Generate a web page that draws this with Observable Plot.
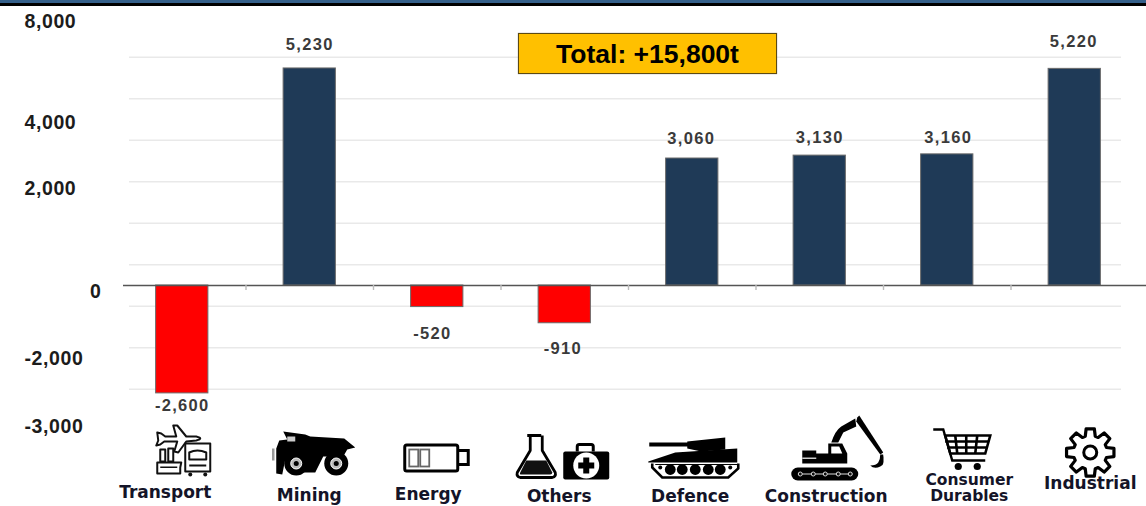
<!DOCTYPE html>
<html><head><meta charset="utf-8">
<script src="https://cdn.jsdelivr.net/npm/d3@7"></script>
<script src="https://cdn.jsdelivr.net/npm/@observablehq/plot@0.6"></script>
<style>
html,body{margin:0;padding:0;width:1146px;height:506px;overflow:hidden;background:#fff}
#a{height:3px;background:#35608a}#b{height:3px;background:#000}
#chart{position:absolute;left:0;top:6px}
#total{position:absolute;left:518px;top:33px;width:257px;height:39px;background:#FFC000;border:1px solid #5c4a12;
 font:bold 26.5px "Liberation Sans",sans-serif;color:#000;text-align:center;line-height:41px;box-shadow:0 0 1px #888}
.val{letter-spacing:1.3px}
.tick{letter-spacing:.6px}
svg{overflow:hidden}
</style></head><body>
<div id="a"></div><div id="b"></div>
<div id="chart"></div>
<div id="total">Total: +15,800t</div>
<script>
const categories = ["Transport","Mining","Energy","Others","Defence","Construction","Consumer Durables","Industrial"];
const values = [-2600,5230,-520,-910,3060,3130,3160,5220];
const valueText = ["-2,600","5,230","-520","-910","3,060","3,130","3,160","5,220"];
const axisText = ["8,000","4,000","2,000","-2,000","-3,000"];
const gridValues = [5500,4500,3500,2500,1500,500,-500,-1500,-2500];

// layout, as page pixels
const PX_PER_UNIT = 0.0415, ZERO_Y = 285;
const unit = p => (ZERO_Y - p) / PX_PER_UNIT;
const valueTextY = [405,44,333,348,138,137,137,41];
const valueTextDx = [0,0,-5,-2,-1,0,1,-1];
const axisTextY = [21,122,188,358,426];
const catLabels = [
 {t:"Transport",c:0,cx:165,y:492,s:17},{t:"Mining",c:1,cx:309,y:495,s:17},{t:"Energy",c:2,cx:428,y:494,s:17},
 {t:"Others",c:3,cx:559,y:496,s:17},{t:"Defence",c:4,cx:690,y:496,s:17},{t:"Construction",c:5,cx:826,y:496,s:17},
 {t:"Consumer",c:6,cx:969,y:480,s:15.5},{t:"Durables",c:6,cx:969,y:496,s:15.5},{t:"Industrial",c:7,cx:1090,y:483,s:17}];
const center = i => 182 + 127.5*i;

// icon artwork, drawn in page pixels inside each icon's viewBox
const gear = (()=>{const cx=1090,cy=452,pts=[];for(let i=0;i<8;i++){const a=i*Math.PI/4-Math.PI/2;
  for(const [da,r] of [[-.30,17],[-.17,24],[.17,24],[.30,17]]) pts.push([cx+r*Math.cos(a+da),cy+r*Math.sin(a+da)].map(v=>v.toFixed(1)).join(","));}
  return `<path d="M${pts.join("L")}Z" fill="none" stroke="#000" stroke-width="3.2" stroke-linejoin="round"/><circle cx="${cx}" cy="${cy}" r="6.5" fill="none" stroke="#000" stroke-width="3"/>`;})();
const icons = [
 `<g fill="#fff" stroke="#111" stroke-width="2" stroke-linejoin="round"><path d="M157 432l4 1 4 3 11 0-3-11 4 0 9 11 10 0q4 1 4 2t-4 2l-10 1-8 11-4-1 3-10-13 0-4 3-4 1 2-5z"/><path d="M185 443h25v28h-25z"/><path d="M189 452q8-4 17 0v7h-17z"/><path d="M189 465h17"/><path d="M160 449h5v12h-5zM168 448h5v13h-5z"/><path d="M157 462h24l-1 5v6h-23z"/></g><g fill="#111"><path d="M160 466h17v1.5h-17z"/><circle cx="190" cy="474" r="2"/><circle cx="205" cy="474" r="2"/></g>`,
 `<g fill="#000"><path d="M283 431l22 3 5 2 34 2 11 9-8 2-4 7-20 0-2 4-6 12-14 0-8-12-8-1-3 15-6-1v-25l3-8 8-1z"/><circle cx="296" cy="463" r="12"/><circle cx="336" cy="463" r="12"/></g><circle cx="296" cy="463" r="5.5" fill="#bbb" stroke="#fff"/><circle cx="336" cy="463" r="5.5" fill="#bbb" stroke="#fff"/><circle cx="296" cy="463" r="2.5"/><circle cx="336" cy="463" r="2.5"/><path d="M287 436h8v5h-8z" fill="#ccc"/><path d="M273 448v12" stroke="#999" stroke-width="2.5"/>`,
 `<rect x="404.5" y="444.5" width="53" height="26" rx="2" fill="none" stroke="#000" stroke-width="3"/><path d="M458 450h10v14h-10" fill="none" stroke="#000" stroke-width="3"/><rect x="409" y="449" width="9" height="17" fill="none" stroke="#666" stroke-width="1.8"/><rect x="420" y="449" width="9" height="17" fill="none" stroke="#666" stroke-width="1.8"/>`,
 `<path d="M527 435h14M530 435v15l-13 22q-1 4 3 5h32q4-1 3-5l-13-22v-15" fill="#fff" stroke="#000" stroke-width="2.8" stroke-linejoin="round"/><path d="M526 460h20l6 12q0 2-2 2h-29q-2 0-1-2z" fill="#111"/><path d="M577 451v-5q0-2 2-2h12q2 0 2 2v5" fill="none" stroke="#000" stroke-width="3"/><rect x="563" y="451" width="46" height="28" rx="2"/><circle cx="586" cy="465" r="13" fill="#fff"/><path d="M583 457h6v5h5v6h-5v5h-6v-5h-5v-6h5z"/>`,
 `<path d="M649 442h38v4h-38zM687 441l38-4v12l-24 2-14-3z"/><path d="M648 461l27-9 62-4v14h-89z"/><path d="M652 463v4l10 10h66l10-9v-5" fill="none" stroke="#000" stroke-width="2.6"/><path d="M655 464h82" stroke="#000" stroke-width="1"/><g><circle cx="670" cy="469" r="5.4"/><circle cx="682" cy="469" r="5.4"/><circle cx="695" cy="469" r="5.4"/><circle cx="708" cy="469" r="5.4"/><circle cx="720" cy="469" r="5.4"/><circle cx="660" cy="467" r="2"/><circle cx="730" cy="467" r="2"/></g>`,
 `<rect x="791" y="467" width="67" height="13" rx="6.5"/><path d="M798 473.500h54" stroke="#ddd" stroke-width="1"/><g fill="#111" stroke="#ddd"><circle cx="800" cy="473.500" r="2"/><circle cx="813" cy="473.500" r="2"/><circle cx="825" cy="473.500" r="2"/><circle cx="838" cy="473.500" r="2"/><circle cx="850" cy="473.500" r="2"/></g><path d="M802 454v-4h14v3h12v-10h14l5 10v10h-45z"/><path d="M802 457h14v1.500h-14z" fill="#ccc"/><path d="M831 446h8l3 7h-11z" fill="#fff"/><path d="M831 442q4-12 10-16l14-8 1 8-13 6-5 10z"/><path d="M857 417l2-2 24 37-3 2-24-33z"/><path d="M883 454q3 9-3 12t-10-1q6 0 8-3t2-8z"/>`,
 `<path d="M933 429h10l9 31h33" fill="none" stroke="#000" stroke-width="2.4"/><path d="M945 435h45l-5 18h-35z" fill="none" stroke="#000" stroke-width="2.6"/><path d="M945 441h43M947 447h39M955 435l2 18M966 435v18M977 435l-2 18" stroke="#000" stroke-width="2.6"/><circle cx="958" cy="466" r="3.600"/><circle cx="977" cy="466" r="3.600"/>`,
 gear
];
const iconSrc = icons.map((body,i)=>"data:image/svg+xml,"+encodeURIComponent(
 `<svg xmlns="http://www.w3.org/2000/svg" viewBox="${center(i)-63.75} 410 127.5 75" width="127.5" height="75">${body}</svg>`));

const rows = categories.map((c,i)=>({c,v:values[i],t:valueText[i],ty:unit(valueTextY[i]),dx:valueTextDx[i],src:iconSrc[i]}));
const axisRows = axisText.map((t,i)=>({t,y:unit(axisTextY[i])}));

const sans = '"Liberation Sans",Arial,sans-serif';
const marks = [
 Plot.ruleY(gridValues,{stroke:"#e9e9e9",strokeWidth:1.6,insetLeft:11,insetRight:17}),
 Plot.barY(rows,{x:"c",y:"v",fill:d=>d.v<0?"#FF0000":"#1F3A57",stroke:"#6b6b6b",strokeWidth:1}),
 Plot.ruleY([0],{stroke:"#555",strokeWidth:1.4,insetLeft:5,insetRight:-8}),
 Plot.ruleX(categories.slice(0,7),{x:d=>d,y1:0,y2:-120,dx:63.75,stroke:"#bbb",strokeWidth:1.4}),
 ...rows.map(r=>Plot.text([r],{x:()=>r.c,y:"ty",text:"t",dx:r.dx,fill:"#3a3a3a",fontWeight:"bold",fontSize:16.5,fontFamily:sans,className:"val"})),
 Plot.text(axisRows,{y:"y",text:"t",frameAnchor:"left",textAnchor:"start",dx:-94,fill:"#1c1c1c",fontWeight:"bold",fontSize:19.5,fontFamily:sans,className:"tick"}),
 Plot.text([{t:"0",y:unit(291)}],{y:"y",text:"t",frameAnchor:"left",textAnchor:"middle",dx:-23,fill:"#1c1c1c",fontWeight:"bold",fontSize:19.5,fontFamily:sans}),
 Plot.image(rows,{x:"c",y:()=>unit(447.5),src:"src",width:127.5,height:75}),
 ...catLabels.map(d=>Plot.text([d],{x:()=>categories[d.c],y:()=>unit(d.y),text:"t",dx:d.cx-center(d.c),fill:"#141428",fontWeight:"bold",fontSize:d.s,fontFamily:'"DejaVu Sans",sans-serif'}))
];
const chart = Plot.plot({
 width:1146,height:500,marginLeft:118,marginRight:8,marginTop:0,marginBottom:0,
 x:{type:"band",domain:categories,paddingInner:.59,paddingOuter:.295,round:false,axis:null},
 y:{domain:[unit(506),unit(6)],axis:null},
 marks
});
document.getElementById("chart").append(chart);
</script>
</body></html>
